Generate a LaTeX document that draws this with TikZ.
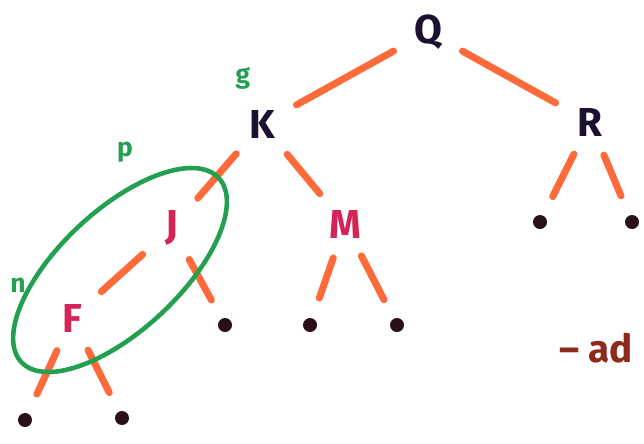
\documentclass[tikz,border=0pt]{standalone}
\usepackage{fontspec}
\setsansfont{Fira Sans}
\usepackage{xcolor}
\usepackage{tikz}
\usetikzlibrary{shapes.geometric}
\definecolor{edgeorange}{HTML}{FF6A3A}
\definecolor{inkdark}{HTML}{1C1230}
\definecolor{inkred}{HTML}{D42458}
\definecolor{inkgreen}{HTML}{22A050}
\definecolor{dotdark}{HTML}{2A1018}
\definecolor{inkbrown}{HTML}{8E2A1C}
\tikzset{
  key/.style={circle,minimum size=1cm,inner sep=0pt,
    font=\fontsize{23}{26}\selectfont\sffamily\bfseries},
  leaf/.style={circle,fill=dotdark,minimum size=0.28cm,inner sep=0pt},
  edge/.style={draw=edgeorange,line width=4pt,line cap=round,
    shorten <=8pt,shorten >=8pt}
}

\begin{document}
\begin{tikzpicture}[x=0.02cm,y=-0.02cm,
  topkey/.style={key,text=inkdark},
  subkey/.style={key,text=inkred},
  toleaf/.style={edge,shorten <=6pt,shorten >=12pt},
  tag/.style={text=inkgreen,font=\fontsize{15}{18}\selectfont\sffamily\bfseries}
]
  \useasboundingbox (0,0) rectangle (644,443);

  % keys
  \node[topkey] (Q) at (428,32) {Q};
  \node[topkey] (K) at (262,124) {K};
  \node[topkey] (R) at (590,122) {R};
  \node[subkey] (J) at (172,228) {J};
  \node[subkey] (M) at (345,224) {M};
  \node[subkey] (F) at (72,318) {F};

  % empty leaves
  \node[leaf] (r1) at (540,222) {};
  \node[leaf] (r2) at (632,222) {};
  \node[leaf] (j2) at (225,325) {};
  \node[leaf] (m1) at (310,325) {};
  \node[leaf] (m2) at (397,325) {};
  \node[leaf] (f1) at (25,420) {};
  \node[leaf] (f2) at (122,418) {};

  \draw[edge] (Q) -- (K);
  \draw[edge] (Q) -- (R);
  \draw[edge] (K) -- (J);
  \draw[edge] (K) -- (M);
  \draw[edge] (J) -- (F);
  \draw[toleaf] (J) -- (j2);
  \draw[toleaf] (M) -- (m1);
  \draw[toleaf] (M) -- (m2);
  \draw[toleaf] (R) -- (r1);
  \draw[toleaf] (R) -- (r2);
  \draw[toleaf] (F) -- (f1);
  \draw[toleaf] (F) -- (f2);

  % green marks
  \node[draw=inkgreen,line width=2.6pt,ellipse,rotate=43,
    minimum width=5.4cm,minimum height=2.4cm] (group) at (120,270) {};
  \node[tag] (g) at (243,78) {g};
  \node[tag] (p) at (125,152) {p};
  \node[tag] (n) at (18,285) {n};

  \node[anchor=west,text=inkbrown,
    font=\fontsize{22}{26}\selectfont\sffamily\bfseries] (note) at (553,348) {-- ad};
\end{tikzpicture}
\end{document}
